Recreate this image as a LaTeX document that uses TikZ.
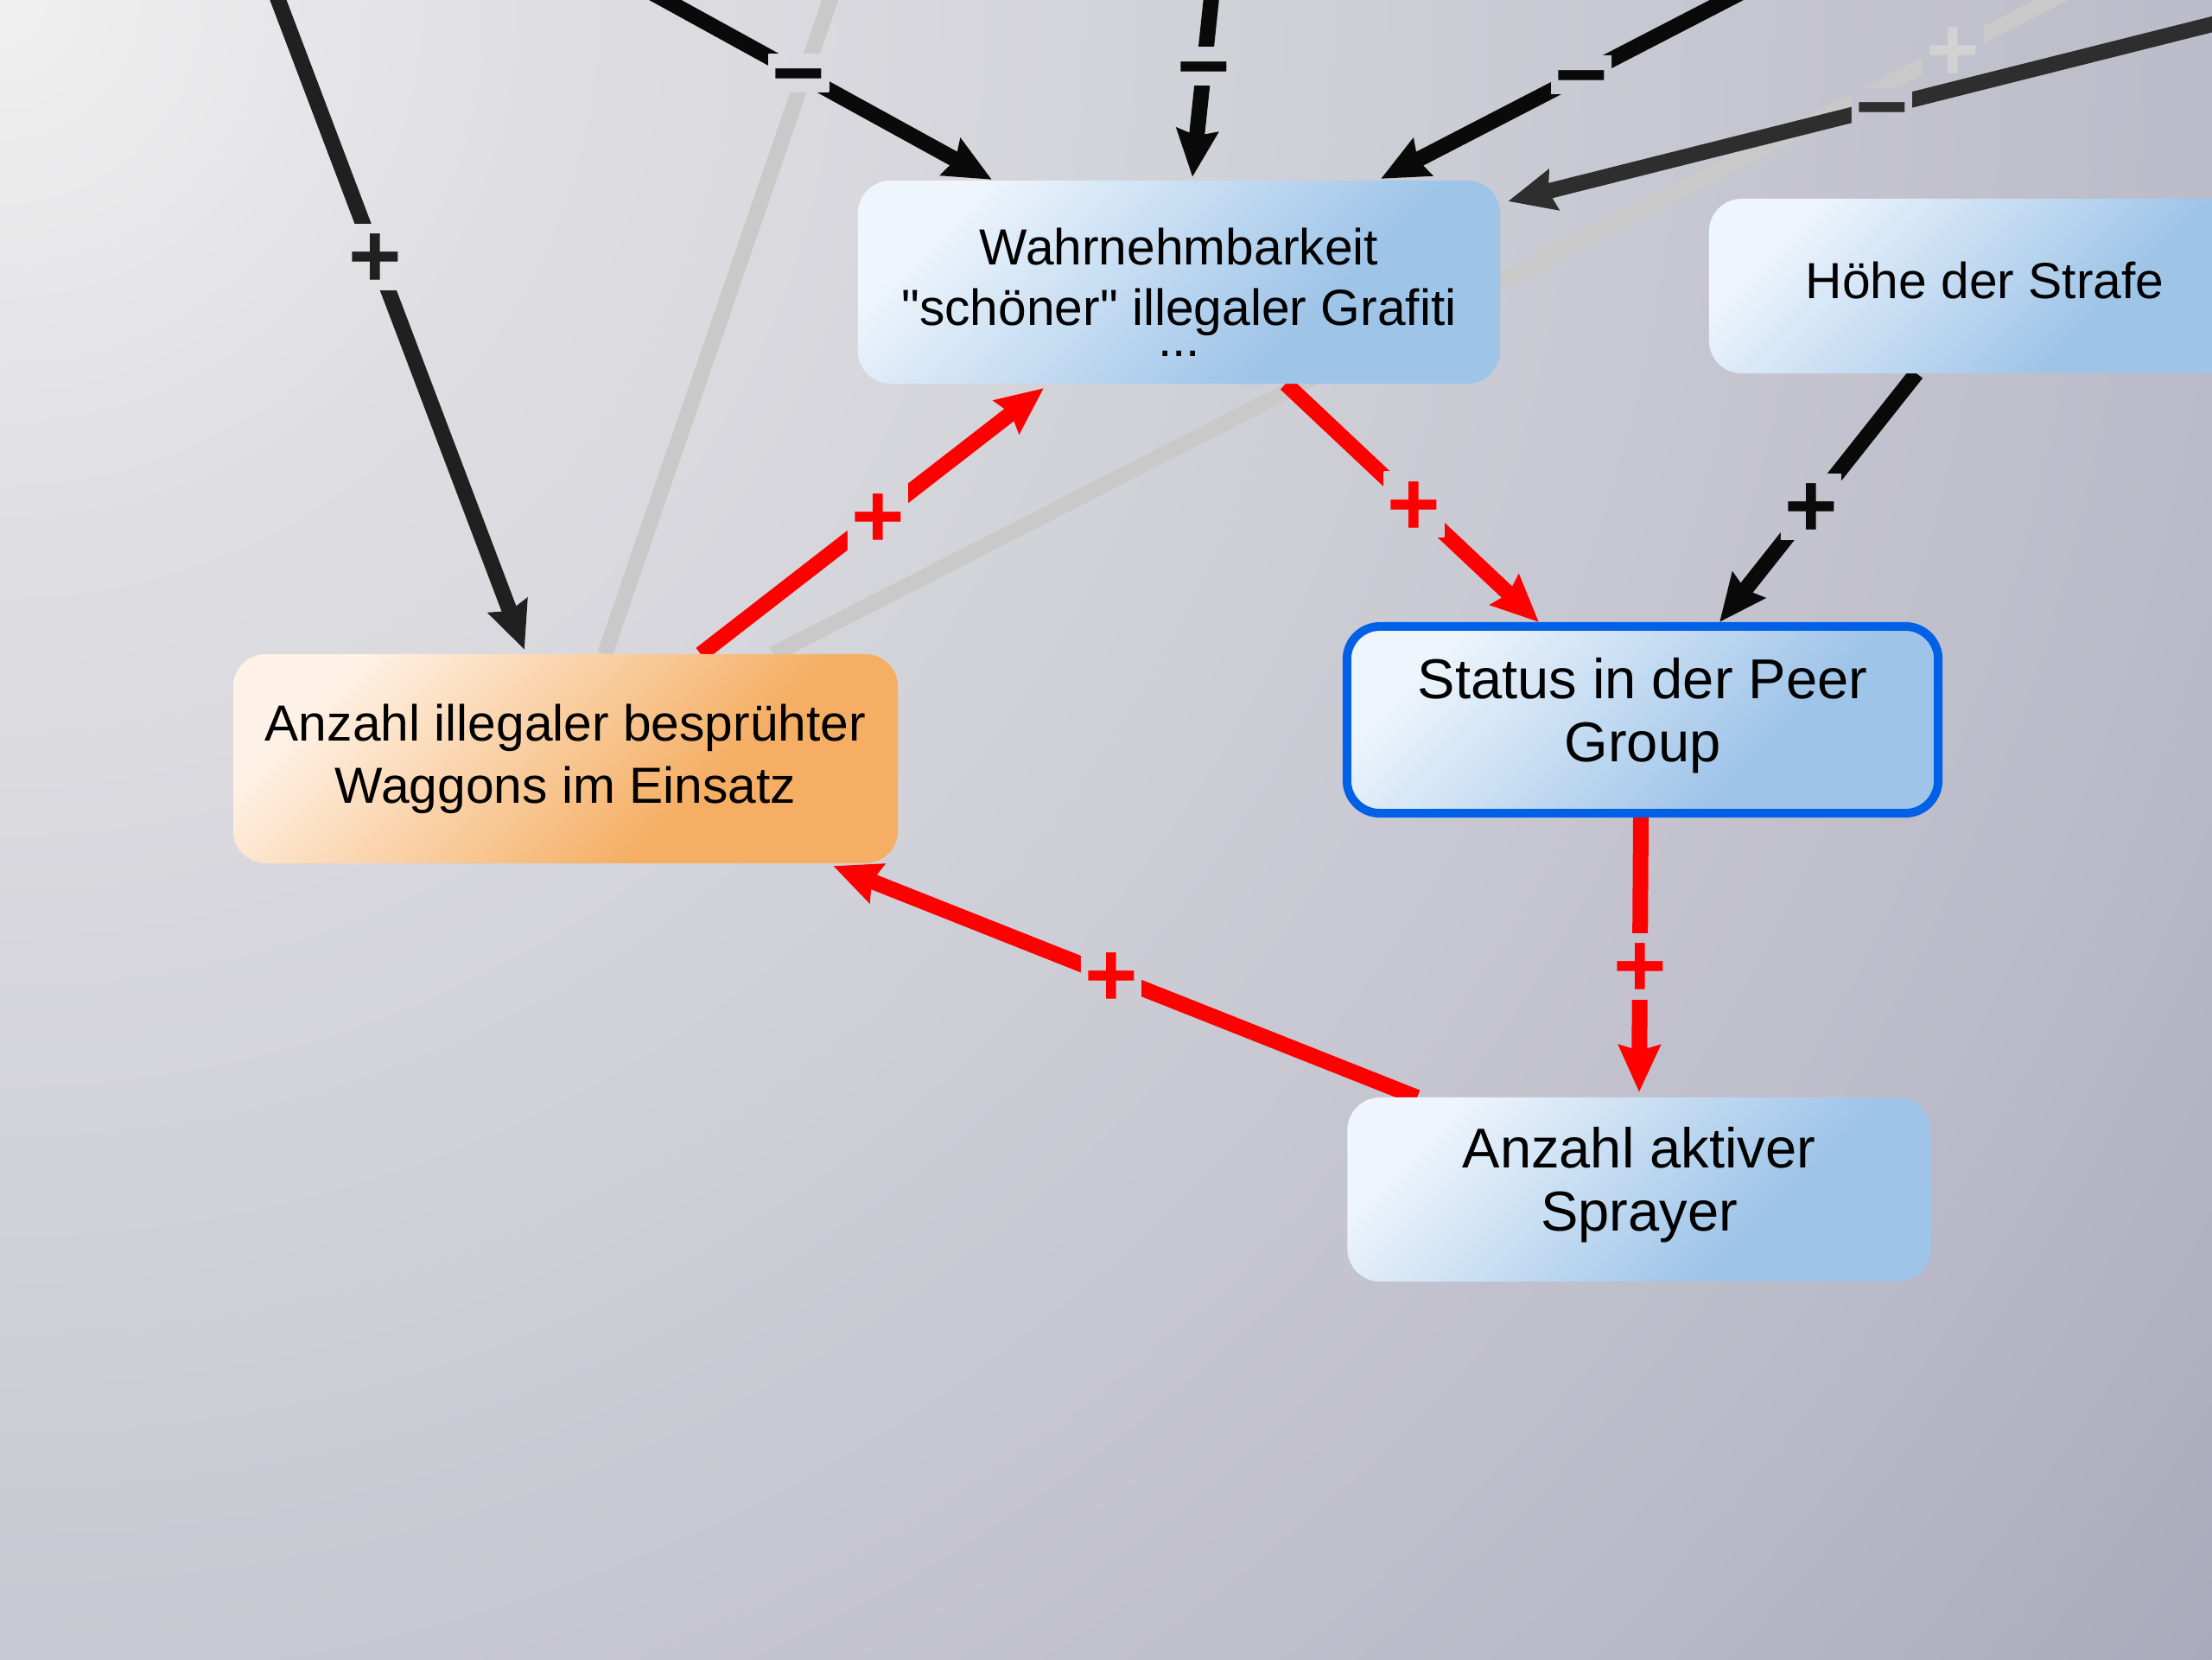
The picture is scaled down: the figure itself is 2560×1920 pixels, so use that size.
\documentclass[tikz,border=0pt]{standalone}
\usepackage{fontspec}
\setmainfont{Liberation Sans}[Ligatures=TeXOff]
\usetikzlibrary{arrows.meta,calc}
\definecolor{bg0}{HTML}{F0F0F0}
\definecolor{bg1}{HTML}{DEDEE2}
\definecolor{bg2}{HTML}{C8C8D2}
\definecolor{bg3}{HTML}{BCBBC9}
\definecolor{bg4}{HTML}{ABAABC}
\definecolor{nbL}{HTML}{EEF5FC}
\definecolor{nbR}{HTML}{9EC4E8}
\definecolor{noL}{HTML}{FEF2E6}
\definecolor{noR}{HTML}{F5AE63}
\definecolor{sborder}{HTML}{0060E6}
\definecolor{ered}{HTML}{FF0000}
\definecolor{eblack}{HTML}{0A0A0A}
\definecolor{edark}{HTML}{202020}
\definecolor{egray}{HTML}{2E2E2E}
\definecolor{elight}{HTML}{C9C9C9}
\definecolor{elightlab}{HTML}{D2D2D2}
\pgfdeclareradialshading{bgrad}{\pgfpoint{0bp}{0bp}}{color(0bp)=(bg0); color(5.1bp)=(bg1); color(15bp)=(bg2); color(20bp)=(bg3); color(25bp)=(bg4); color(50bp)=(bg4)}
\pgfdeclarehorizontalshading{blueg}{100bp}{color(0bp)=(nbL); color(25bp)=(nbL); color(64bp)=(nbR); color(100bp)=(nbR)}
\pgfdeclarehorizontalshading{orangeg}{100bp}{color(0bp)=(noL); color(25bp)=(noL); color(64bp)=(noR); color(100bp)=(noR)}
\pgfdeclarelayer{bgl}
\pgfdeclarelayer{edl}
\pgfsetlayers{bgl,edl,main}
\newcommand{\labtxt}[1]{\smash{\raisebox{-10pt}{#1}}}
\tikzset{
  vbox/.style={rectangle, rounded corners=0.38cm, inner sep=0pt, outer sep=0pt, align=center, text=black},
  bluebox/.style={vbox, shade, shading=blueg, shading angle=-45},
  orangebox/.style={vbox, shade, shading=orangeg, shading angle=-45},
  conn/.style={line width=1.8mm, -{Stealth[length=5.4mm,width=4.7mm,inset=0.6mm]}},
  plainedge/.style={line width=1.8mm},
  lab/.style={font=\fontsize{30}{30}\selectfont\bfseries, inner sep=0pt, outer sep=0pt,
    text height=0pt, text depth=0pt, minimum width=7mm, minimum height=7.6mm,
    path picture={\shade[shading=bgrad] (bgorigin) circle[radius=3200];}},
  labm/.style={lab, minimum height=4.4mm},
}
\begin{document}
\begin{tikzpicture}[x=0.01cm,y=-0.01cm]
\useasboundingbox (0,0) rectangle (2560,1920);
\coordinate (bgorigin) at (0,0);
\begin{pgfonlayer}{bgl}
  \shade[shading=bgrad] (bgorigin) circle[radius=3200];
\end{pgfonlayer}

% nodes
\node[bluebox, minimum width=7.43cm, minimum height=2.35cm, font=\fontsize{16.7}{19.9}\selectfont]
  (W) at (1364.5,326.5) {\rule{0pt}{19pt}Wahrnehmbarkeit\\"schöner" illegaler Grafiti\\[-9.7pt]...};
\node[bluebox, minimum width=6.38cm, minimum height=2.02cm, font=\fontsize{16.7}{20}\selectfont]
  (H) at (2297,331) {Höhe der Strafe\rule[-4pt]{0pt}{4pt}};
\node[bluebox, draw=sborder, line width=1mm, minimum width=6.84cm, minimum height=2.16cm, font=\fontsize{18.5}{20.7}\selectfont]
  (S) at (1901,833) {Status in der Peer\\Group\rule[-6.8pt]{0pt}{6.8pt}};
\node[orangebox, minimum width=7.69cm, minimum height=2.42cm, font=\fontsize{16.7}{20.5}\selectfont]
  (A) at (654.5,878) {Anzahl illegaler besprühter\\Waggons im Einsatz};
\node[bluebox, minimum width=6.75cm, minimum height=2.13cm, font=\fontsize{18.5}{20.7}\selectfont]
  (P) at (1897,1376.5) {Anzahl aktiver\\Sprayer\rule[-6.7pt]{0pt}{6.7pt}};

\begin{pgfonlayer}{edl}
  \coordinate (t1) at (303,-50);
  \coordinate (t2) at (679,-50);
  \coordinate (t3) at (1407,-50);
  \coordinate (t4) at (2095,-50);
  \coordinate (t5) at (2660,3);
  \coordinate (t6) at (2472,-50);
  \coordinate (t7) at (978,-50);
  % faded connectors
  \draw[plainedge, elight] ($(A.north)+(45.5,0)$) -- (t7);
  \draw[plainedge, elight] ($(A.north)+(240.5,0)$) -- node[lab, pos=0.866, text=elightlab] (L6) {\labtxt{+}} (t6);
  % dark connectors
  \draw[conn, edark] (t1) -- node[lab, pos=0.433, text=edark] (L1) {\labtxt{+}} ($(A.north)+(-47.5,-5)$);
  \draw[conn, eblack] (t2) -- node[labm, pos=0.523, text=eblack] (L2) {\labtxt{−}} ($(W.north)+(-216.5,-1)$);
  \draw[conn, eblack] (t3) -- node[labm, pos=0.498, text=eblack] (L3) {\labtxt{−}} ($(W.north)+(15.5,-4)$);
  \draw[conn, eblack] (t4) -- node[labm, pos=0.533, text=eblack] (L4) {\labtxt{−}} ($(W.north)+(233.5,-2)$);
  \draw[conn, egray] (t5) -- node[labm, pos=0.527, text=egray] (L5) {\labtxt{−}} ($(W.north east)+(9,24)$);
  \draw[conn, eblack] ($(H.south)+(-79,0)$) -- node[lab, pos=0.536, text=eblack] (L10) {\labtxt{+}} ($(S.north)+(89,-5)$);
  % red loop
  \draw[conn, ered] ($(A.north)+(156.5,0)$) -- node[lab, pos=0.516, text=ered] (L8) {\labtxt{+}} ($(W.south)+(-156.5,5)$);
  \draw[conn, ered] ($(W.south)+(123.5,0)$) -- node[lab, pos=0.507, text=ered] (L9) {\labtxt{+}} ($(S.north)+(-120,-5)$);
  \draw[conn, ered] ($(S.south)+(-2,5)$) -- node[lab, pos=0.542, text=ered] (L11) {\labtxt{+}} ($(P.north)+(0,-6)$);
  \draw[conn, ered] ($(P.north)+(-257,0)$) -- node[lab, pos=0.524, text=ered] (L12) {\labtxt{+}} ($(A.south east)+(-75,3)$);
\end{pgfonlayer}
\end{tikzpicture}
\end{document}
